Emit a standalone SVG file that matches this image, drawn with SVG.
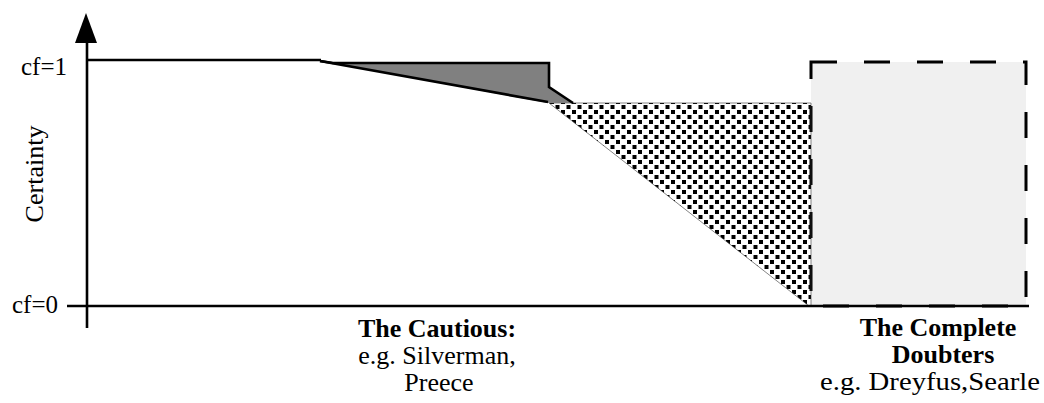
<svg xmlns="http://www.w3.org/2000/svg" width="1044" height="403" viewBox="0 0 1044 403">
  <style>
    .t { font-family: "Liberation Serif", "Times New Roman", serif; fill: #000; }
    .lab { font-size: 26px; text-anchor: middle; }
    .b { font-weight: bold; }
    .ln { stroke: #000; stroke-width: 2.6; fill: none; }
  </style>
  <defs>
    <pattern id="dots" x="0" y="0" width="11" height="10" patternUnits="userSpaceOnUse">
      <rect x="0" y="0" width="4" height="4" fill="#000"/>
      <rect x="5.5" y="5" width="4" height="4" fill="#000"/>
    </pattern>
  </defs>
  <rect width="1044" height="403" fill="#fff"/>

  <g id="doubters-region">
    <rect x="811" y="62" width="215" height="244" fill="#f0f0f0" stroke="#000" stroke-width="3" stroke-dasharray="26 27"/>
  </g>

  <g id="cautious-dotted-region">
    <polygon points="549,103 811,103 811,306 809,306" fill="url(#dots)" stroke="#333" stroke-width="0.6"/>
  </g>

  <g id="gray-region">
    <polygon points="320,61 333,63 549,63 549,87 573,103 548,103" fill="#808080"/>
    <path class="ln" d="M320,61 L333,63 H549 V87 L573,103"/>
    <path class="ln" d="M320,61 L548,102"/>
  </g>

  <g id="connectors">
    <path class="ln" d="M87,60 H321"/>
    <path class="ln" d="M87,40 V328"/>
    <polygon points="86,13 75,43 97,43" fill="#000"/>
    <path class="ln" d="M67,306 H1029"/>
  </g>

  <g id="axis-labels">
    <text class="t" x="67" y="75" font-size="25" text-anchor="end">cf=1</text>
    <text class="t" x="58" y="313" font-size="25" text-anchor="end">cf=0</text>
    <text class="t" font-size="26" text-anchor="middle" transform="translate(43,174) rotate(-90)">Certainty</text>
  </g>

  <g id="label-cautious">
    <text class="t lab b" x="437" y="337">The Cautious:</text>
    <text class="t lab" x="437" y="364">e.g. Silverman,</text>
    <text class="t lab" x="439" y="391">Preece</text>
  </g>

  <g id="label-doubters">
    <text class="t lab b" x="938" y="336">The Complete</text>
    <text class="t lab b" x="943" y="363">Doubters</text>
    <text class="t lab" x="930" y="390" textLength="220" lengthAdjust="spacingAndGlyphs">e.g. Dreyfus,Searle</text>
  </g>
</svg>
